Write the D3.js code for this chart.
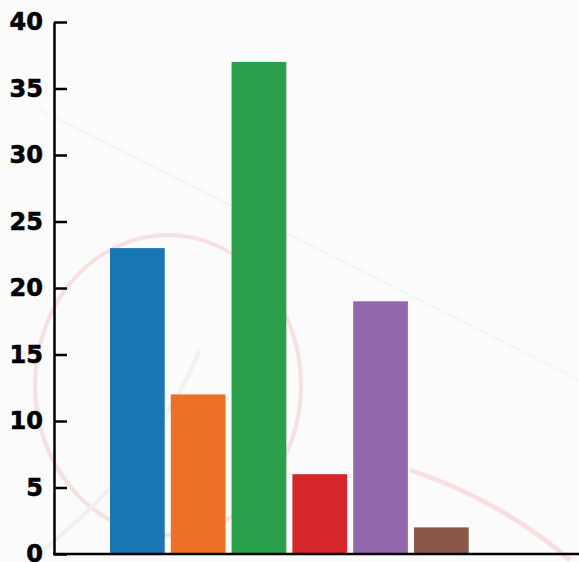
<!DOCTYPE html>
<html><head><meta charset="utf-8">
<script src="https://cdn.jsdelivr.net/npm/d3@7"></script>
<style>html,body{margin:0;padding:0;background:#fbfbfb;overflow:hidden}</style>
</head><body>
<svg id="c" width="579" height="562"></svg>
<script>
const categories = ["A","B","C","D","E","F"];
const values = [23, 12, 37, 6, 19, 2];
const colors = ["#1a76b5","#ed7124","#29a049","#d62629","#9267ad","#8c574b"];
const yTicks = [0,5,10,15,20,25,30,35,40];

const svg = d3.select("#c");
// faint decorative background (stamp-like)
const bg = svg.append("g");
bg.append("rect").attr("width",579).attr("height",562).attr("fill","#fbfbfb");
bg.append("path").attr("d","M40,110 L579,380").attr("stroke","#f4f3f3").attr("stroke-width",1.5).attr("fill","none");
bg.append("ellipse").attr("cx",168).attr("cy",385).attr("rx",133).attr("ry",150)
  .attr("fill","none").attr("stroke","#f8e0e0").attr("stroke-width",4);
bg.append("path").attr("d","M410,470 Q500,500 570,560").attr("stroke","#f8e0e0").attr("stroke-width",5).attr("fill","none");
bg.append("path").attr("d","M30,560 Q150,470 200,350").attr("stroke","#f0f0f0").attr("stroke-width",4).attr("fill","none");

const y = d3.scaleLinear().domain([0,40]).range([554,22]);
const x = d3.scaleBand().domain(categories).range([110, 468.7]).paddingInner(0.1).paddingOuter(0);

svg.append("g").selectAll("rect").data(values).join("rect")
  .attr("x",(d,i)=>x(categories[i]))
  .attr("width",x.bandwidth())
  .attr("y",d=>y(d))
  .attr("height",d=>y(0)-y(d))
  .attr("fill",(d,i)=>colors[i]);

const yAxis = d3.axisLeft(y).tickValues(yTicks).tickSizeInner(-13).tickSizeOuter(0).tickPadding(11);
const ga = svg.append("g").attr("transform","translate(54,0)").call(yAxis);
ga.select(".domain").attr("stroke","#000").attr("stroke-width",2.5);
ga.selectAll(".tick line").attr("stroke","#000").attr("stroke-width",2.5);
ga.selectAll(".tick text").attr("fill","#000").attr("stroke","#000").attr("stroke-width",0.6)
  .style("font-family","'DejaVu Sans', Verdana, sans-serif").style("font-weight","bold").style("font-size","24px");

svg.append("line").attr("x1",53).attr("x2",579)
  .attr("y1",y(0)).attr("y2",y(0)).attr("stroke","#000").attr("stroke-width",2.5);
</script>
</body></html>
